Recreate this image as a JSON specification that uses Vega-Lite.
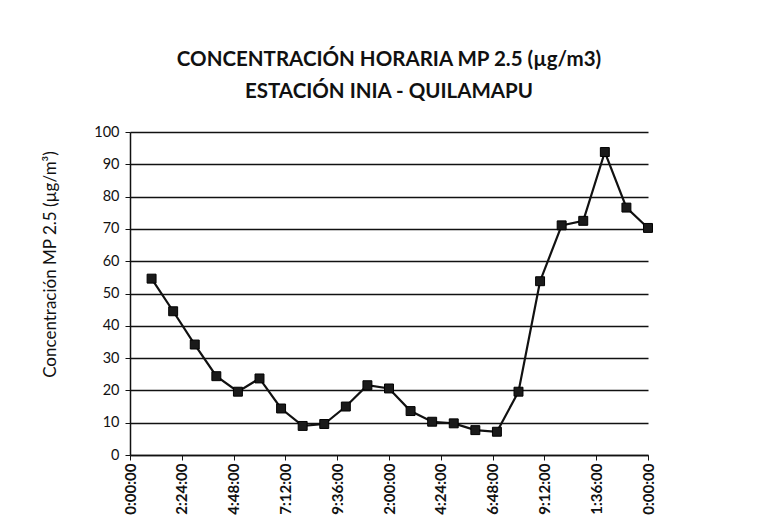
{
  "$schema": "https://vega.github.io/schema/vega-lite/v6.json",
  "autosize": "none",
  "width": 518,
  "height": 323,
  "padding": {"left": 130, "top": 132, "right": 131, "bottom": 75},
  "background": "white",
  "config": {
    "font": "Lato",
    "view": {"stroke": null}
  },
  "title": {
    "text": ["CONCENTRACIÓN HORARIA MP 2.5 (µg/m3)", "ESTACIÓN INIA - QUILAMAPU"],
    "font": "Lato",
    "fontSize": 20.5,
    "fontWeight": "bold",
    "color": "#111111",
    "lineHeight": 32,
    "anchor": "middle",
    "frame": "group",
    "offset": 22
  },
  "data": {
    "values": [
      {"hora": 1, "mp25": 54.6},
      {"hora": 2, "mp25": 44.5},
      {"hora": 3, "mp25": 34.2},
      {"hora": 4, "mp25": 24.4},
      {"hora": 5, "mp25": 19.6},
      {"hora": 6, "mp25": 23.7},
      {"hora": 7, "mp25": 14.4},
      {"hora": 8, "mp25": 9.0},
      {"hora": 9, "mp25": 9.6},
      {"hora": 10, "mp25": 15.0},
      {"hora": 11, "mp25": 21.6},
      {"hora": 12, "mp25": 20.6},
      {"hora": 13, "mp25": 13.6},
      {"hora": 14, "mp25": 10.3},
      {"hora": 15, "mp25": 9.8},
      {"hora": 16, "mp25": 7.7},
      {"hora": 17, "mp25": 7.2},
      {"hora": 18, "mp25": 19.6},
      {"hora": 19, "mp25": 53.8},
      {"hora": 20, "mp25": 71.1},
      {"hora": 21, "mp25": 72.5},
      {"hora": 22, "mp25": 93.8},
      {"hora": 23, "mp25": 76.6},
      {"hora": 24, "mp25": 70.3}
    ]
  },
  "encoding": {
    "x": {
      "field": "hora",
      "type": "quantitative",
      "scale": {"domain": [0, 24], "nice": false, "zero": false},
      "axis": {
        "title": null,
        "values": [0, 2.4, 4.8, 7.2, 9.6, 12, 14.4, 16.8, 19.2, 21.6, 24],
        "labelExpr": "['0:00:00','2:24:00','4:48:00','7:12:00','9:36:00','2:00:00','4:24:00','6:48:00','9:12:00','1:36:00','0:00:00'][round(datum.value / 2.4)]",
        "labelAngle": 270,
        "labelFontSize": 15,
        "labelFontWeight": "bold",
        "labelColor": "#111111",
        "labelPadding": 3,
        "labelFlush": false,
        "labelOverlap": false,
        "grid": false,
        "domainColor": "#111111",
        "domainWidth": 1.5,
        "tickColor": "#111111",
        "tickSize": 5
      }
    },
    "y": {
      "field": "mp25",
      "type": "quantitative",
      "scale": {"domain": [0, 100], "nice": false},
      "axis": {
        "title": "Concentración MP 2.5 (µg/m³)",
        "titleFont": "Lato",
        "titleFontSize": 17,
        "titleFontWeight": "normal",
        "titleColor": "#111111",
        "titlePadding": 34,
        "titleY": 132,
        "values": [0, 10, 20, 30, 40, 50, 60, 70, 80, 90, 100],
        "labelFontSize": 14.5,
        "labelColor": "#111111",
        "labelPadding": 6,
        "grid": true,
        "gridColor": "#111111",
        "gridWidth": 1.5,
        "gridOpacity": 1,
        "domainColor": "#111111",
        "domainWidth": 1.5,
        "tickColor": "#111111",
        "tickSize": 5
      }
    }
  },
  "layer": [
    {
      "mark": {"type": "line", "color": "#111111", "strokeWidth": 2.2}
    },
    {
      "mark": {"type": "point", "shape": "square", "filled": true, "color": "#1a1a1a", "size": 80, "opacity": 1, "stroke": "#000000", "strokeWidth": 1}
    }
  ]
}
